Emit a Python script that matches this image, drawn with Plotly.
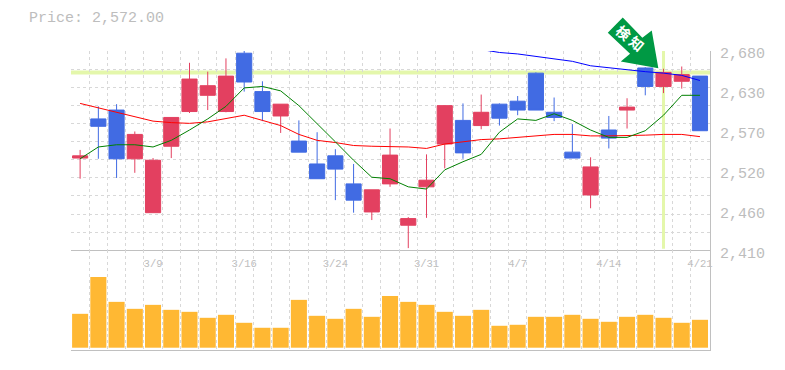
import plotly.graph_objects as go

index = list(range(35))
opens = [2535, 2588, 2600, 2534, 2461, 2551, 2598, 2620, 2598, 2677, 2625, 2592, 2558, 2527, 2538, 2500, 2462, 2500,
         2444, 2496, 2554, 2586, 2579, 2608, 2612, 2650, 2597, 2543, 2485, 2573, 2600, 2657, 2632, 2639, 2646]
closes = [2538, 2578, 2534, 2567, 2532, 2590, 2642, 2633, 2646, 2638, 2598, 2608, 2543, 2507, 2520, 2478, 2492, 2539,
          2453, 2505, 2606, 2542, 2597, 2589, 2600, 2600, 2590, 2535, 2523, 2562, 2604, 2632, 2651, 2648, 2572]
highs = [2546, 2605, 2608, 2571, 2535, 2590, 2664, 2652, 2670, 2680, 2639, 2608, 2586, 2570, 2547, 2527, 2492, 2575,
         2455, 2540, 2606, 2609, 2621, 2609, 2619, 2651, 2617, 2581, 2536, 2592, 2616, 2658, 2656, 2659, 2646]
lows = [2507, 2534, 2508, 2515, 2461, 2535, 2596, 2600, 2597, 2625, 2585, 2569, 2543, 2507, 2478, 2461, 2451, 2496,
        2413, 2454, 2521, 2534, 2574, 2579, 2593, 2600, 2585, 2535, 2467, 2548, 2575, 2620, 2623, 2629, 2572]
volume = [34, 71, 46, 39, 43, 38, 36, 30, 33, 25, 20, 20, 48, 32, 29, 39, 31, 52,
          46, 43, 36, 32, 38, 22, 23, 31, 31, 33, 29, 26, 31, 33, 30, 25, 28]
ma_short = [2534, 2550, 2553, 2553, 2550, 2559, 2573, 2588, 2605, 2630, 2632, 2626, 2606, 2582, 2557, 2532, 2509, 2507,
            2496, 2493, 2519, 2530, 2540, 2570, 2588, 2586, 2595, 2586, 2573, 2563, 2563, 2572, 2593, 2620, 2620]
ma_mid = [2609, 2603, 2597, 2590, 2585, 2583, 2582, 2584, 2588, 2593, 2586, 2579, 2567, 2559, 2556, 2552, 2551, 2551,
          2550, 2548, 2554, 2557, 2560, 2561, 2563, 2566, 2567, 2567, 2565, 2565, 2565, 2566, 2567, 2567, 2564]
ma_long_index = list(range(22, 35))
ma_long = [2682, 2678, 2676, 2673, 2670, 2666, 2660, 2657, 2654, 2652, 2650, 2647, 2640]
y_ticks = [2680, 2626, 2572, 2518, 2464, 2410]
y_labels = ["2,680", "2,630", "2,570", "2,520", "2,460", "2,410"]
x_ticks = [4, 9, 14, 19, 24, 29, 34]
x_labels = ["3/9", "3/16", "3/24", "3/31", "4/7", "4/14", "4/21"]
current_price_label = "Price: 2,572.00"
level_price = 2651
signal_index = 32

FONT = "Liberation Mono"
TXT = "#bdbdbd"
GRID = "#d8d8d8"
AXIS = "#c0c0c0"
RED = "#e34060"
BLUE = "#416be3"
BAND = "#e4f7ab"
DASH = "3px,3px"
W, H = 785, 370
L, R, T, B = 70.5, 710, 50.5, 350.5


def px(x):
    return (x - L) / (R - L)


def py(y):
    return (B - y) / (B - T)


fig = go.Figure()
fig.add_trace(go.Bar(x=index, y=volume, marker=dict(color="#ffb833", line_width=0), xaxis="x2", yaxis="y2"))
for xs, ys, c in [(index, ma_mid, "#ff0000"), (index, ma_short, "#008000"), (ma_long_index, ma_long, "#0000ff")]:
    fig.add_trace(go.Scatter(x=xs, y=ys, mode="lines", line=dict(color=c, width=1), cliponaxis=False,
                             xaxis="x", yaxis="y"))
fig.add_trace(go.Candlestick(
    x=index, open=opens, high=highs, low=lows, close=closes, whiskerwidth=0,
    increasing=dict(fillcolor=RED, line=dict(color=RED, width=1)),
    decreasing=dict(fillcolor=BLUE, line=dict(color=BLUE, width=1)),
    xaxis="x", yaxis="y"))

minor_x = dict(showgrid=True, tick0=-0.5, dtick=1, gridcolor=GRID, griddash=DASH, gridwidth=1, ticks="")
common_x = dict(range=[-0.5, 34.55], showgrid=False, zeroline=False, showline=True, linecolor=AXIS, linewidth=1,
                rangeslider=dict(visible=False), minor=minor_x)

fig.update_layout(
    width=W, height=H, showlegend=False, paper_bgcolor="white", plot_bgcolor="white",
    margin=dict(l=L, r=W - R, t=T, b=H - B, pad=0, autoexpand=False), boxgap=0.17, boxgroupgap=0, bargap=0.12,
    xaxis=dict(common_x, anchor="y", tickvals=x_ticks, ticktext=x_labels, ticks="", ticklabelstandoff=3,
               tickfont=dict(family=FONT, size=10.5, color=TXT)),
    xaxis2=dict(common_x, anchor="y2", showticklabels=False),
    yaxis=dict(domain=[1 / 3, 1], range=[2410, 2680], side="right", anchor="x", showgrid=False, zeroline=False,
               showline=True, linecolor=AXIS, tickvals=y_ticks, ticktext=y_labels, ticks="", ticklabelstandoff=6,
               ticklabelshift=2, tickfont=dict(family=FONT, size=15, color=TXT),
               minor=dict(showgrid=True, tick0=2410, dtick=270 / 11, gridcolor=GRID, griddash=DASH, gridwidth=1,
                          ticks="")),
    yaxis2=dict(domain=[0, 1 / 3], range=[-2.3, 97.7], side="right", anchor="x2", showgrid=False, zeroline=False,
                showline=True, linecolor=AXIS, showticklabels=False, ticks=""),
    shapes=[
        dict(type="line", xref="x", yref="y", x0=-0.5, x1=34.55, y0=level_price, y1=level_price,
             line=dict(color=BAND, width=4), layer="below"),
        dict(type="line", xref="x", yref="y", x0=signal_index, x1=signal_index, y0=2412, y1=2680,
             line=dict(color=BAND, width=3), layer="below"),
        dict(type="path", xref="paper", yref="paper", layer="above", fillcolor="#009944", line_width=0,
             path="M{} {} L{} {} L{} {} L{} {} L{} {} L{} {} L{} {} Z".format(
                 px(622.7), py(17), px(642.3), py(37.3), px(651.7), py(30), px(658.3), py(67.7),
                 px(620.7), py(61), px(630), py(53.3), px(607.7), py(32.3))),
        dict(type="rect", xref="paper", yref="paper", layer="above", line_width=0, fillcolor="rgba(0,0,0,0)",
             x0=px(619), x1=px(639), y0=py(49), y1=py(29),
             label=dict(text="検 知", textangle=40, textposition="middle center",
                        font=dict(family="Noto Sans CJK JP", size=14, color="white", weight=700))),
    ],
    annotations=[
        dict(text=current_price_label, xref="paper", yref="paper", x=px(26), y=py(18), xanchor="left", yanchor="middle",
             showarrow=False, font=dict(family=FONT, size=15, color=TXT)),
    ],
)

fig.write_html("out.html", config={"displayModeBar": False},
               post_script="document.body.style.margin='0';document.body.style.overflow='hidden';")
